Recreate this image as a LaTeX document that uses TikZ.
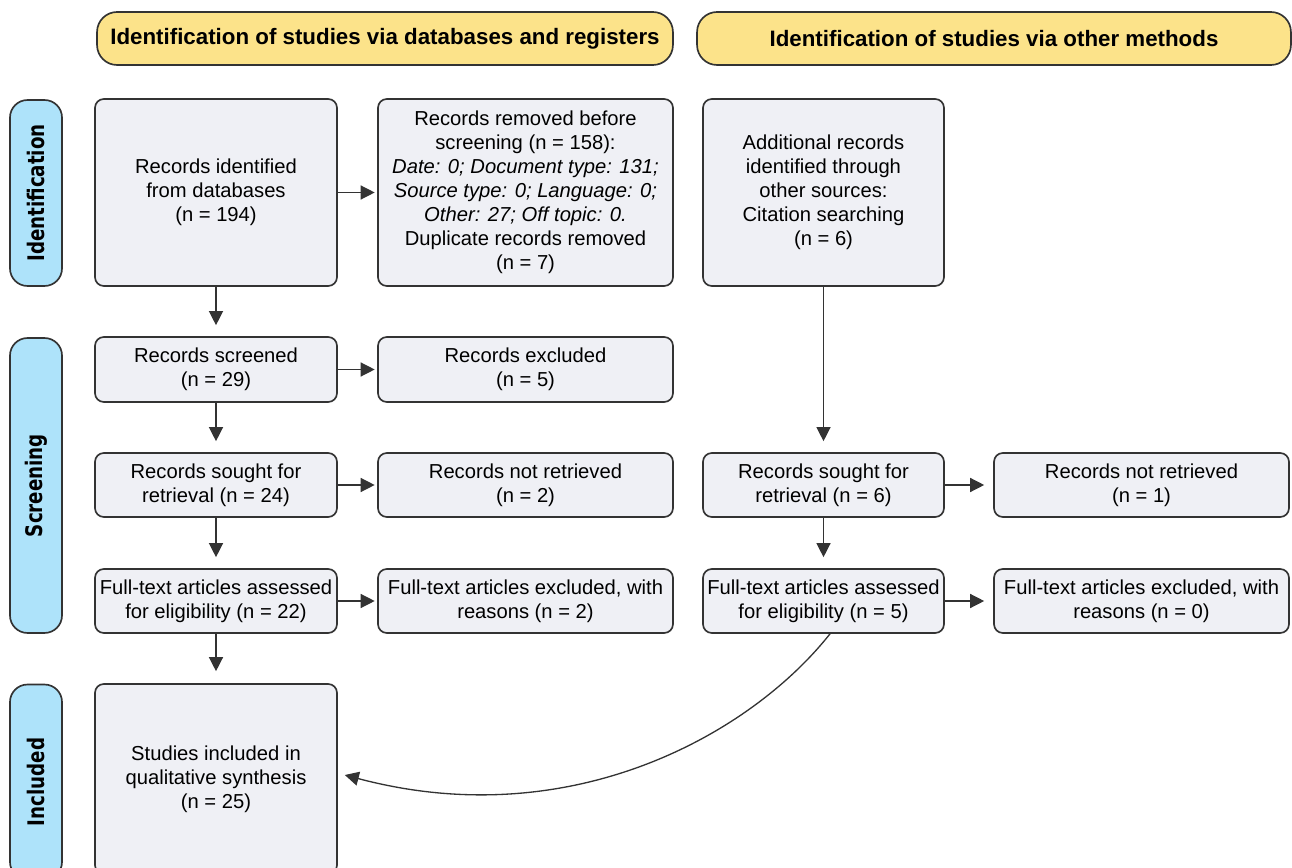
\documentclass[tikz,border=0pt]{standalone}
\usepackage{fontspec}
\setmainfont{Liberation Sans}
\newfontfamily\phasefont[FakeStretch=0.8]{DejaVu Sans}
\usetikzlibrary{arrows.meta}
\definecolor{hdyellow}{HTML}{FCE38A}
\definecolor{phblue}{HTML}{AEE3FA}
\definecolor{boxgray}{HTML}{EFF0F5}
\definecolor{edge}{HTML}{333333}

\begin{document}
\begin{tikzpicture}[x=0.02cm,y=-0.02cm,>={Triangle[length=2.8mm,width=2.8mm]},
 line width=0.75pt,font=\fontsize{11.5}{13.66}\selectfont,
 bx/.style={draw=edge,line width=0.95pt,fill=boxgray,rounded corners=5pt,align=center,inner sep=2pt,minimum width=4.84cm},
 wide/.style={bx,minimum width=5.9cm},
 hd/.style={draw=edge,line width=0.95pt,fill=hdyellow,rounded corners=0.4cm,minimum width=#1,minimum height=1.06cm,
   font=\fontsize{12.7}{15}\selectfont\bfseries},
 ph/.style={draw=edge,line width=0.95pt,fill=phblue,rounded corners=0.35cm,rotate=90,minimum width=#1,minimum height=1.04cm,
   font=\phasefont\fontsize{13}{15}\selectfont\bfseries}]
\useasboundingbox (0,0) rectangle (1292,868);

% headers
\node[hd=11.52cm] (hdb) at (385,38.5) {Identification of studies via databases and registers};
\node[hd=11.88cm] (hdo) at (994,38.5) {Identification of studies via other methods};

% phases
\node[ph=3.72cm] (phid) at (36,193) {Identification};
\node[ph=5.9cm] (phsc) at (36,485.5) {Screening};
\node[ph=3.9cm] (phin) at (36,782) {Included};

% databases and registers
\node[bx,minimum height=3.74cm] (idrec) at (216,192.5) {Records identified\\from databases\\(n = 194)};
\node[wide,minimum height=3.74cm] (removed) at (525.5,192.5) {Records removed before\\screening (n = 158):\\
 \textit{Date: 0; Document type: 131;}\\ \textit{Source type: 0; Language: 0;}\\ \textit{Other: 27; Off topic: 0.}\\
 Duplicate records removed\\(n = 7)};
\node[bx,minimum height=1.3cm] (screened) at (216,369.5) {Records screened\\(n = 29)};
\node[wide,minimum height=1.3cm] (excl) at (525.5,369.5) {Records excluded\\(n = 5)};
\node[bx,minimum height=1.28cm] (sought) at (216,485) {Records sought for\\retrieval (n = 24)};
\node[wide,minimum height=1.28cm] (notret) at (525.5,485) {Records not retrieved\\(n = 2)};
\node[bx,minimum height=1.28cm] (full) at (216,601) {Full-text articles assessed\\for eligibility (n = 22)};
\node[wide,minimum height=1.28cm] (fullex) at (525.5,601) {Full-text articles excluded, with\\reasons (n = 2)};
\node[bx,minimum height=3.8cm] (incl) at (216,779) {Studies included in\\qualitative synthesis\\(n = 25)};

% other methods
\node[bx,minimum width=4.82cm,minimum height=3.74cm] (addrec) at (823.5,192.5) {Additional records\\identified through\\other sources:\\Citation searching\\(n = 6)};
\node[bx,minimum width=4.82cm,minimum height=1.28cm] (sought2) at (823.5,485) {Records sought for\\retrieval (n = 6)};
\node[wide,minimum height=1.28cm] (notret2) at (1141.5,485) {Records not retrieved\\(n = 1)};
\node[bx,minimum width=4.82cm,minimum height=1.28cm] (full2) at (823.5,601) {Full-text articles assessed\\for eligibility (n = 5)};
\node[wide,minimum height=1.28cm] (fullex2) at (1141.5,601) {Full-text articles excluded, with\\reasons (n = 0)};

% flow
\draw[->,edge,shorten >=0.22cm] (idrec) -- (screened);
\draw[->,edge,shorten >=0.22cm] (screened) -- (sought);
\draw[->,edge,shorten >=0.22cm] (sought) -- (full);
\draw[->,edge,shorten >=0.24cm] (full) -- (incl);
\draw[->,edge,shorten >=0.05cm] (idrec) -- (removed);
\draw[->,edge,shorten >=0.05cm] (screened) -- (excl);
\draw[->,edge,shorten >=0.05cm] (sought) -- (notret);
\draw[->,edge,shorten >=0.05cm] (full) -- (fullex);
\draw[->,edge,shorten >=0.22cm] (addrec) -- (sought2);
\draw[->,edge,shorten >=0.22cm] (sought2) -- (full2);
\draw[->,edge,shorten >=0.18cm] (sought2) -- (notret2);
\draw[->,edge,shorten >=0.18cm] (full2) -- (fullex2);
\draw[->,edge] ([xshift=0.13cm]full2.south) .. controls (750,735) and (570,835) .. ([xshift=0.14cm,yshift=0.08cm]incl.east);
\end{tikzpicture}
\end{document}
